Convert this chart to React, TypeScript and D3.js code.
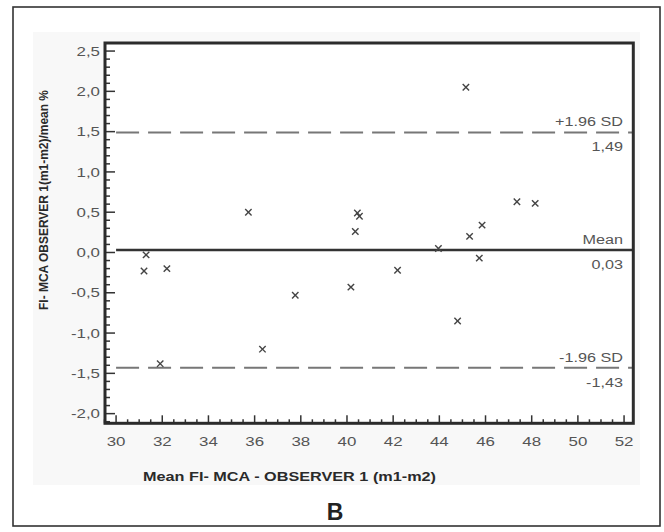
import React from "react";
import * as d3 from "d3";

const xValues = [35.73, 45.15, 40.45, 40.54, 40.36, 47.36, 48.15, 45.85, 45.31, 43.96, 45.73, 42.19, 40.17, 44.79, 31.3, 31.21, 32.2, 37.76, 36.34, 31.91];
const yValues = [0.5, 2.05, 0.49, 0.45, 0.26, 0.63, 0.61, 0.34, 0.2, 0.05, -0.07, -0.22, -0.43, -0.85, -0.03, -0.23, -0.2, -0.53, -1.2, -1.38];
const xTicks = [30, 32, 34, 36, 38, 40, 42, 44, 46, 48, 50, 52];
const yTicks = [-2.0, -1.5, -1.0, -0.5, 0.0, 0.5, 1.0, 1.5, 2.0, 2.5];
const refLines = [
  { value: 1.49, top: "+1.96 SD", bottom: "1,49", dashed: true },
  { value: 0.03, top: "Mean", bottom: "0,03", dashed: false },
  { value: -1.43, top: "-1.96 SD", bottom: "-1,43", dashed: true },
];
const yTitle = "FI- MCA OBSERVER 1(m1-m2)/mean %";
const xTitle = "Mean FI- MCA - OBSERVER 1 (m1-m2)";
const panelLabel = "B";

const FONT = "'Liberation Sans', Arial, Helvetica, sans-serif";

function Txt({ x, y, anchor = "start", size = 13, sx = 1.25, weight = "normal", fill = "#555", children }: any) {
  return (
    <text
      transform={`translate(${x},${y}) scale(${sx},1)`}
      textAnchor={anchor}
      fontFamily={FONT}
      fontSize={size}
      fontWeight={weight}
      fill={fill}
    >
      {children}
    </text>
  );
}

export default function App() {
  const L = 105, R = 633.3, T = 43, B = 423.3;
  const x = d3.scaleLinear().domain([29.52, 52.4]).range([L, R]);
  const y = d3.scaleLinear().domain([-2.12, 2.6]).range([B, T]);
  const fmt = (v: number) => d3.format(".1f")(v).replace(".", ",").replace("−", "-");

  const yMinor = d3.range(-21, 26).map((i) => i / 10);
  const xMinor = d3.range(59, 105).map((i) => i / 2);

  const points = xValues.map((xv, i) => ({ x: xv, y: yValues[i] }));
  const s = 3.2;

  return (
    <svg width={664} height={532} style={{ position: "absolute", left: 0, top: 0 }}>
      <rect x={0} y={0} width={664} height={532} fill="#fff" />
      <rect x={13} y={7} width={647} height={519} fill="#fff" stroke="#333" strokeWidth={1.6} />
      <rect x={33} y={32} width={607} height={453} fill="#f8f8f8" />
      <rect x={L} y={T} width={R - L} height={B - T} fill="#fff" />

      {yMinor.map((v) => {
        const major = Math.abs(v * 2 - Math.round(v * 2)) < 1e-6;
        return (
          <line key={"ym" + v} x1={L} x2={L + (major ? 10 : 5)} y1={y(v)} y2={y(v)} stroke="#333" strokeWidth={1.5} />
        );
      })}
      {xMinor.map((v) => {
        const major = Math.abs(v / 2 - Math.round(v / 2)) < 1e-6;
        return (
          <line key={"xm" + v} x1={x(v)} x2={x(v)} y1={B} y2={B - (major ? 8 : 4)} stroke="#333" strokeWidth={1.5} />
        );
      })}

      {refLines.map((r) => (
        <g key={r.top}>
          <line
            x1={x(30)}
            x2={R}
            y1={y(r.value)}
            y2={y(r.value)}
            stroke={r.dashed ? "#777" : "#333"}
            strokeWidth={r.dashed ? 2 : 2.5}
            strokeDasharray={r.dashed ? "23 9" : undefined}
          />
          <Txt x={623} y={y(r.value) - 6} anchor="end" size={13.5} sx={1.2}>{r.top}</Txt>
          <Txt x={623} y={y(r.value) + 19} anchor="end" size={13.5} sx={1.2}>{r.bottom}</Txt>
        </g>
      ))}

      {points.map((p, i) => (
        <g key={i} stroke="#444" strokeWidth={1.4}>
          <line x1={x(p.x) - s} x2={x(p.x) + s} y1={y(p.y) - s} y2={y(p.y) + s} />
          <line x1={x(p.x) - s} x2={x(p.x) + s} y1={y(p.y) + s} y2={y(p.y) - s} />
        </g>
      ))}

      <rect x={L} y={T} width={R - L} height={B - T} fill="none" stroke="#2b2b2b" strokeWidth={3} />

      {yTicks.map((v) => (
        <Txt key={"yl" + v} x={100} y={y(v) + 4.7} anchor="end" size={13.5} sx={1.25}>{fmt(v)}</Txt>
      ))}
      {xTicks.map((v) => (
        <Txt key={"xl" + v} x={x(v)} y={446} anchor="middle" size={13.5} sx={1.25}>{String(v)}</Txt>
      ))}

      <text
        transform={`translate(48,200) rotate(-90)`}
        textAnchor="middle"
        fontFamily={FONT}
        fontSize={12.5}
        fontWeight="bold"
        fill="#2a2a2a"
        textLength={220}
        lengthAdjust="spacingAndGlyphs"
      >
        {yTitle}
      </text>
      <text
        x={143}
        y={481}
        fontFamily={FONT}
        fontSize={13}
        fontWeight="bold"
        fill="#2a2a2a"
        textLength={293}
        lengthAdjust="spacingAndGlyphs"
      >
        {xTitle}
      </text>
      <text x={335} y={520} textAnchor="middle" fontFamily={FONT} fontSize={23} fontWeight="bold" fill="#222">
        {panelLabel}
      </text>
    </svg>
  );
}
